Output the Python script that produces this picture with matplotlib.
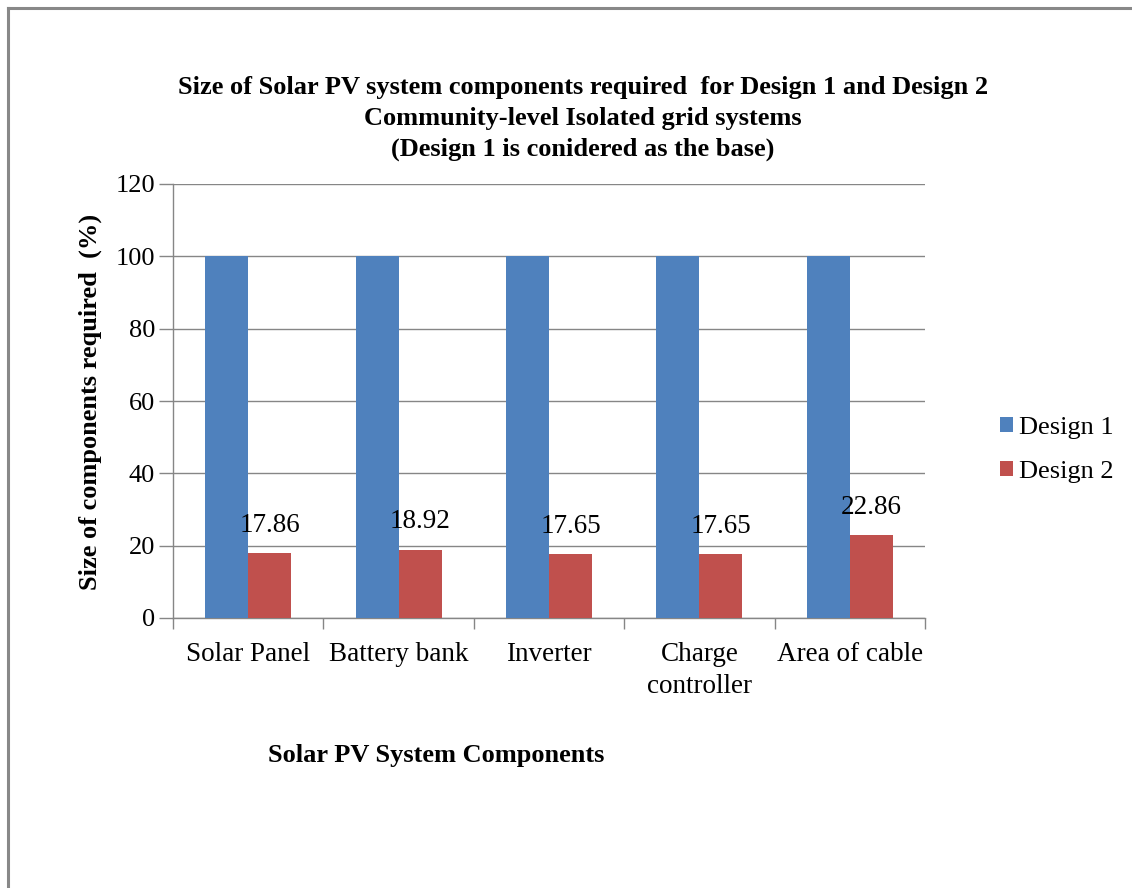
import matplotlib
matplotlib.use("Agg")
import matplotlib.pyplot as plt
import numpy as np
from matplotlib.lines import Line2D
from matplotlib.patches import Patch

categories = ["Solar Panel", "Battery bank", "Inverter", "Charge\ncontroller", "Area of cable"]
design1 = [100, 100, 100, 100, 100]
design2 = [17.86, 18.92, 17.65, 17.65, 22.86]
series_names = ["Design 1", "Design 2"]
yticks = [0, 20, 40, 60, 80, 100, 120]

plt.rcParams['font.family'] = ['Liberation Serif', 'DejaVu Serif']

W, H = 1132, 888
fig = plt.figure(figsize=(W / 100, H / 100), dpi=100)
ax = fig.add_axes([173 / W, 1 - 618 / H, (925 - 173) / W, (618 - 184) / H])

blue = "#4F81BD"
red = "#C0504D"
gray = "#868686"

x = np.arange(len(categories))
bw = 0.286
ax.bar(x - bw / 2, design1, bw, color=blue, zorder=3)
ax.bar(x + bw / 2, design2, bw, color=red, zorder=3)
for xi, v in zip(x, design2):
    ax.text(xi + bw / 2, v + 4.2, f"{v:.2f}", ha="center", va="bottom", fontsize=19.5, color="black", zorder=4)

ax.set_xlim(-0.5, len(categories) - 0.5)
ax.set_ylim(0, 120)
ax.set_yticks(yticks)
ax.set_yticklabels([str(t) for t in yticks], fontsize=19)
ax.yaxis.grid(True, color=gray, linewidth=1.0, zorder=0)
ax.set_xticks(np.arange(-0.5, len(categories), 1.0))
ax.set_xticklabels([])
ax.set_xticks(x, minor=True)
ax.set_xticklabels(categories, minor=True, fontsize=19.5, linespacing=1.39)
ax.tick_params(axis='x', which='minor', length=0, pad=17)
ax.tick_params(axis='x', which='major', length=8, color=gray, width=1)
ax.tick_params(axis='y', length=10, color=gray, width=1, pad=3)
for s in ["top", "right"]:
    ax.spines[s].set_visible(False)
for s in ["left", "bottom"]:
    ax.spines[s].set_color(gray)
    ax.spines[s].set_linewidth(1.0)

fig.text(583 / W, 1 - 87 / H, "Size of Solar PV system components required  for Design 1 and Design 2",
         ha="center", va="center", fontsize=19, fontweight="bold")
fig.text(583 / W, 1 - 118 / H, "Community-level Isolated grid systems",
         ha="center", va="center", fontsize=19, fontweight="bold")
fig.text(583 / W, 1 - 149 / H, "(Design 1 is conidered as the base)",
         ha="center", va="center", fontsize=19, fontweight="bold")

fig.text(90 / W, 1 - 402 / H, "Size of components required  (%)", rotation=90,
         ha="center", va="center", fontsize=19, fontweight="bold")
fig.text(436 / W, 1 - 755 / H, "Solar PV System Components",
         ha="center", va="center", fontsize=19, fontweight="bold")

handles = [Patch(facecolor=blue), Patch(facecolor=red)]
fig.legend(handles, series_names, loc="center left", bbox_to_anchor=(1000 / W, 1 - 450 / H),
           frameon=False, fontsize=19, handlelength=0.5, handleheight=0.5,
           handletextpad=0.22, labelspacing=0.83, borderaxespad=0, borderpad=0)

fig.add_artist(Line2D([8 / W, 8 / W], [0, 1 - 8 / H], color="#888888", linewidth=2.2))
fig.add_artist(Line2D([8 / W, 1], [1 - 8 / H, 1 - 8 / H], color="#888888", linewidth=2.2))

fig.savefig("out.png", dpi=100, facecolor="white")
